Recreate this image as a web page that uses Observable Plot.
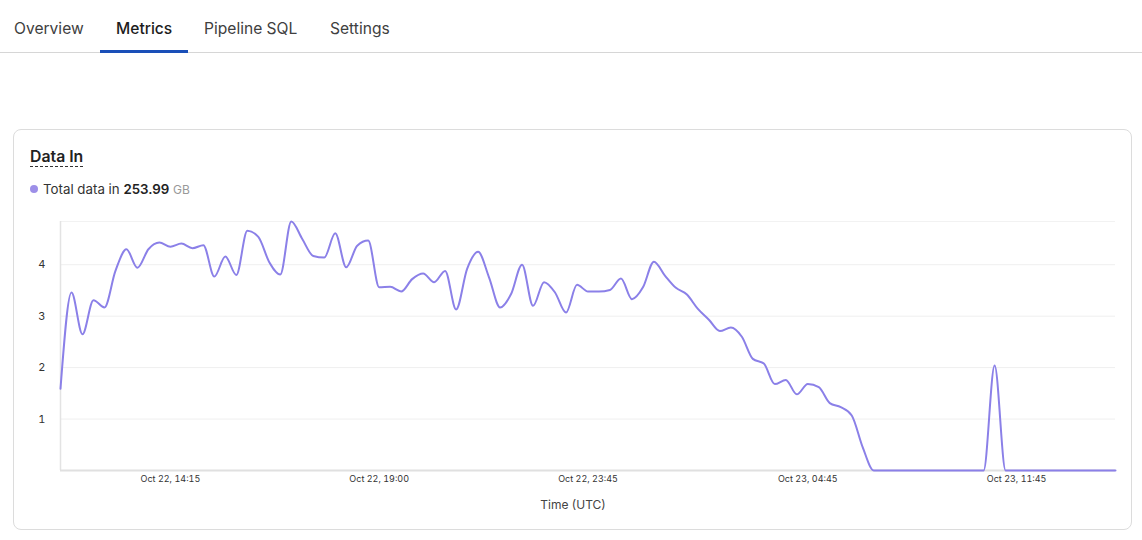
<!DOCTYPE html>
<html>
<head>
<meta charset="utf-8">
<script src="https://cdn.jsdelivr.net/npm/d3@7"></script>
<script src="https://cdn.jsdelivr.net/npm/@observablehq/plot@0.6"></script>
<style>
  html, body { margin: 0; padding: 0; background: #fff; width: 1142px; height: 540px; overflow: hidden; font-family: Inter, "Noto Sans", sans-serif; }
  .tab { position: absolute; top: 19px; font-size: 15.6px; color: #404040; line-height: 20px; }
  .tab.active { color: #1c1c1c; font-weight: 500; }
  #tabline { position: absolute; left: 0; top: 52px; width: 1142px; height: 1px; background: #d6d6d6; }
  #tabbar { position: absolute; left: 100px; top: 50px; width: 88px; height: 3px; background: #1a4fb8; }
  #card { position: absolute; left: 13px; top: 129px; width: 1117px; height: 399px; border: 1px solid #dcdcdc; border-radius: 8px; }
  #title { position: absolute; left: 30px; top: 147px; font-size: 15.8px; font-weight: 600; color: #222; line-height: 19px; border-bottom: 1px dashed #333; }
  #legend { position: absolute; left: 30px; top: 181px; font-size: 13.3px; color: #333; line-height: 16px; white-space: nowrap; }
  #legend .dot { display: inline-block; width: 8px; height: 8px; border-radius: 50%; background: #9d8fe8; margin-right: 5px; vertical-align: 1px; }
  #legend b { font-weight: 600; color: #222; }
  #legend .unit { color: #999; font-size: 12px; }
  #chart { position: absolute; left: 14px; top: 205px; }
</style>
</head>
<body>
<div class="tab" style="left:14px">Overview</div>
<div class="tab active" style="left:116px">Metrics</div>
<div class="tab" style="left:204px">Pipeline SQL</div>
<div class="tab" style="left:330px">Settings</div>
<div id="tabline"></div>
<div id="tabbar"></div>
<div id="card"></div>
<div id="title">Data In</div>
<div id="legend"><span class="dot"></span>Total data in <b>253.99</b> <span class="unit">GB</span></div>
<div id="chart"></div>
<script>
// Data In (GB) per 15-minute bucket
const values = [
  1.59, 3.46, 2.65, 3.31, 3.17, 3.88, 4.30, 3.94, 4.30, 4.43,
  4.35, 4.41, 4.32, 4.38, 3.77, 4.16, 3.80, 4.66, 4.54, 4.05,
  3.81, 4.84, 4.50, 4.17, 4.14, 4.61, 3.95, 4.37, 4.47, 3.56,
  3.57, 3.48, 3.72, 3.83, 3.66, 3.88, 3.13, 3.92, 4.25, 3.75,
  3.17, 3.43, 4.00, 3.20, 3.66, 3.46, 3.07, 3.61, 3.48, 3.48,
  3.51, 3.73, 3.33, 3.56, 4.06, 3.79, 3.55, 3.42, 3.14, 2.93,
  2.71, 2.78, 2.60, 2.17, 2.08, 1.68, 1.76, 1.48, 1.68, 1.62,
  1.31, 1.23, 1.07, 0.45, 0, 0, 0, 0, 0, 0,
  0, 0, 0, 0, 0, 2.04, 0, 0, 0, 0,
  0, 0, 0, 0, 0, 0, 0
];
const tickLabels = ["Oct 22, 14:15", "Oct 22, 19:00", "Oct 22, 23:45", "Oct 23, 04:45", "Oct 23, 11:45"];
const tickBuckets = [10, 29, 48, 68, 87];
const yTicks = [1, 2, 3, 4];

const data = values.map((v, i) => ({i, v}));
const yMax = d3.max(values);
const labelOf = new Map(tickBuckets.map((b, k) => [b, tickLabels[k]]));

const chart = Plot.plot({
  width: 1116,
  height: 310,
  marginLeft: 46,
  marginRight: 15,
  marginTop: 16,
  marginBottom: 45,
  style: {fontFamily: "Inter, 'Noto Sans', sans-serif", color: "#333", background: "transparent"},
  x: {domain: [0, values.length - 1]},
  y: {domain: [0, yMax]},
  marks: [
    Plot.ruleY(yTicks, {stroke: "#efefef", strokeWidth: 1}),
    Plot.ruleY([yMax], {stroke: "#f2f2f2", strokeWidth: 1}),
    Plot.ruleX([0], {stroke: "#e3e3e3", strokeWidth: 1.5}),
    Plot.ruleY([0], {stroke: "#e0e0e0", strokeWidth: 2}),
    Plot.line(data, {x: "i", y: "v", curve: "monotone-x", stroke: "#8b80e8", strokeWidth: 2}),
    Plot.axisY({ticks: yTicks, tickFormat: d => String(d), tickSize: 0, tickPadding: 15, fontSize: 11, label: null}),
    Plot.axisX({ticks: tickBuckets, tickFormat: d => labelOf.get(d), tickSize: 0, tickPadding: 5, fontSize: 9, label: null}),
    Plot.text(["Time (UTC)"], {frameAnchor: "bottom", dx: -15, dy: 38, fontSize: 12, fill: "#444"})
  ]
});
document.getElementById("chart").appendChild(chart);
</script>
</body>
</html>
